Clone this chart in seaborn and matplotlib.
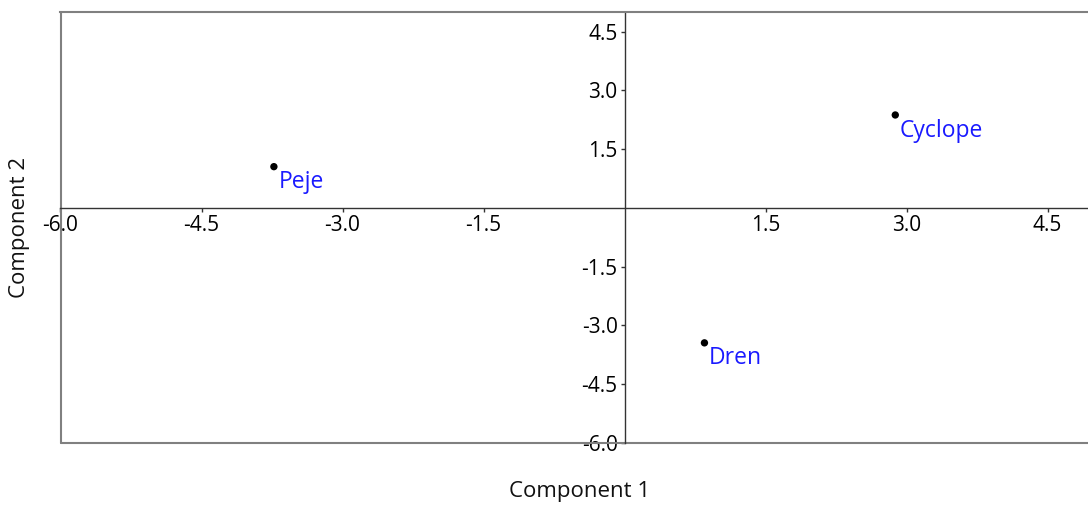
import matplotlib
matplotlib.use("Agg")
import matplotlib.pyplot as plt
import seaborn as sns
import pandas as pd

# Data
names = ["Peje", "Cyclope", "Dren"]
comp1 = [-3.73, 2.88, 0.85]
comp2 = [1.05, 2.37, -3.45]
xticks = [-6.0, -4.5, -3.0, -1.5, 1.5, 3.0, 4.5]
yticks = [-6.0, -4.5, -3.0, -1.5, 1.5, 3.0, 4.5]

sns.set_style("white")
plt.rcParams['font.family'] = ['Open Sans', 'DejaVu Sans']

df = pd.DataFrame({"name": names, "Component 1": comp1, "Component 2": comp2})

fig = plt.figure(figsize=(10.88, 5.05), dpi=100)
ax = fig.add_axes([60.5/1088, (505-442.7)/505, (1088-60.5)/1088, (442.7-12)/505])

sns.scatterplot(data=df, x="Component 1", y="Component 2", ax=ax,
                color="black", s=28, edgecolor="none", zorder=5, clip_on=False)

for n, x, y in zip(names, comp1, comp2):
    ax.annotate(n, (x, y), xytext=(3.3, -15.5), textcoords="offset points",
                color="#1a1aff", fontsize=16.5, ha="left", va="baseline")

ax.set_xlim(-6.0, 4.93)
ax.set_ylim(-6.0, 5.0)

axis_col = "#333333"
box_col = "#808080"
ax.spines['left'].set_position(('data', 0))
ax.spines['bottom'].set_position(('data', 0))
for s in ['left', 'bottom']:
    ax.spines[s].set_color(axis_col)
    ax.spines[s].set_linewidth(1.0)
ax.spines['right'].set_visible(False)
ax.spines['top'].set_color(box_col)
ax.spines['top'].set_linewidth(1.5)
# outer frame (left and bottom edges)
ax.plot([0, 0], [0, 1], transform=ax.transAxes, color=box_col, lw=1.5, clip_on=False)
ax.plot([0, 1], [0, 0], transform=ax.transAxes, color=box_col, lw=1.5, clip_on=False)

ax.set_xticks(xticks)
ax.set_yticks(yticks)
ax.set_xticklabels([f"{v:.1f}" for v in xticks])
ax.set_yticklabels([f"{v:.1f}" for v in yticks])
ax.tick_params(axis='both', direction='out', length=3, width=1, color=axis_col,
               labelsize=15, labelcolor="#000000", pad=2, bottom=True, left=True)

ax.set_xlabel("")
ax.set_ylabel("")
fig.text(580/1088, 1 - 492/505, "Component 1", ha="center", va="center", fontsize=16, color="#111111")
fig.text(20/1088, 1 - 227/505, "Component 2", ha="center", va="center", rotation=90, fontsize=16, color="#111111")

fig.savefig("out.png", dpi=100)
